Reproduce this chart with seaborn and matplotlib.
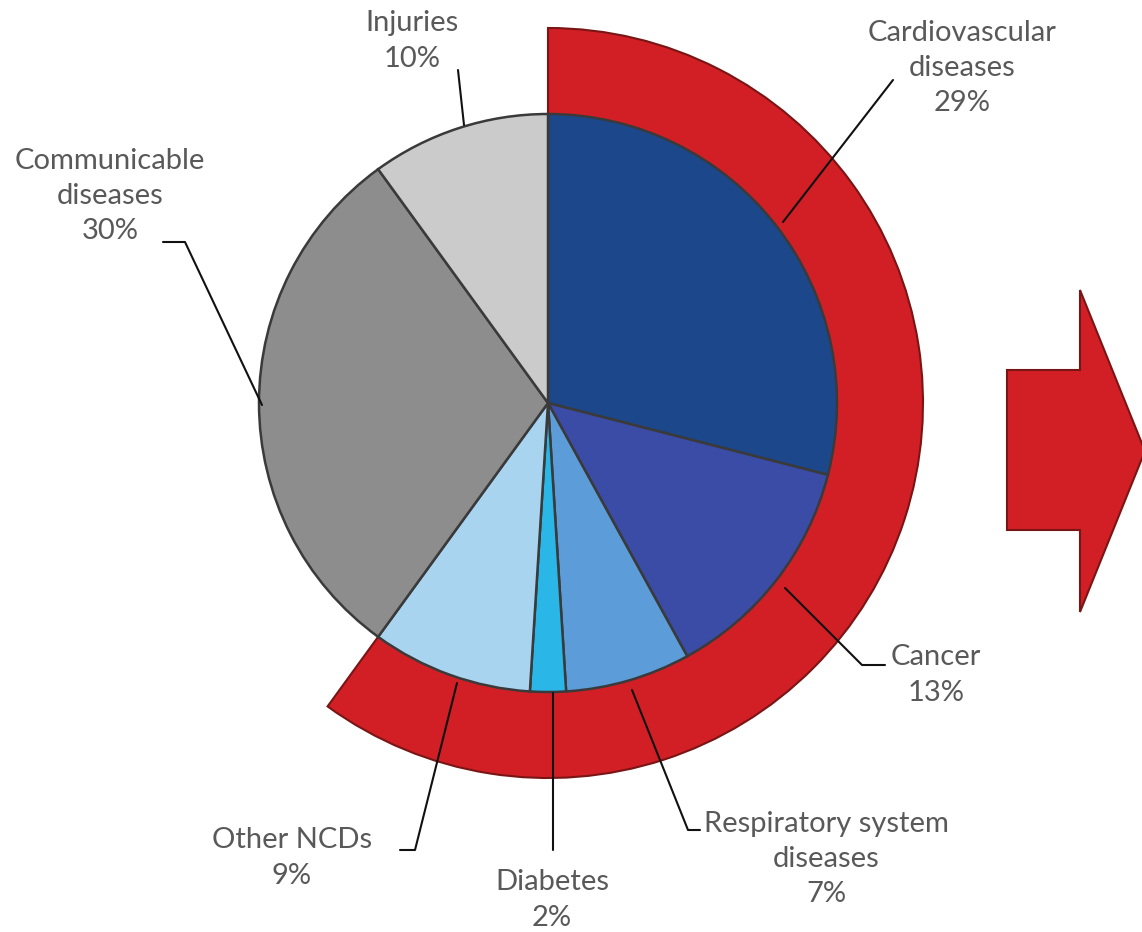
import numpy as np
import matplotlib
matplotlib.use("Agg")
import matplotlib.pyplot as plt
from matplotlib.patches import Wedge, Polygon
import seaborn as sns

# ---------------------------------------------
# Data
# ---------------------------------------------
categories = ["Cardiovascular\ndiseases", "Cancer", "Respiratory system\ndiseases",
              "Diabetes", "Other NCDs", "Communicable\ndiseases", "Injuries"]
shares = [29, 13, 7, 2, 9, 30, 10]
is_ncd = [True, True, True, True, True, False, False]

colors = ["#1c478a", "#3a4ca6", "#5c9cd8", "#2bb6e8", "#a9d4f0", "#8d8d8d", "#cbcbcb"]

sns.set_style("white")
plt.rcParams['font.family'] = ['Lato', 'DejaVu Sans']

W, H = 1142, 932
fig = plt.figure(figsize=(W / 100, H / 100), dpi=100)
ax = fig.add_axes([0, 0, 1, 1])


def py(y):
    # pixel row -> data y
    return H - y


cx, cy, r = 548, py(403), 289

# red ring behind the NCD slices
ncd_total = sum(s for s, n in zip(shares, is_ncd) if n)
ncd_deg = 360 * ncd_total / sum(shares)
ring = Wedge((cx, cy), 375, 90 - ncd_deg, 90, width=110,
             facecolor="#d21f26", edgecolor="#7a1515", linewidth=1.5, zorder=1)
ax.add_patch(ring)

wedges, _ = ax.pie(shares, colors=colors, startangle=90, counterclock=False,
                   center=(cx, cy), radius=r,
                   wedgeprops=dict(edgecolor="#3a3a3a", linewidth=1.8))
for w in wedges:
    w.set_zorder(2)

# arrow on the right
arrow = Polygon([(1007, py(370)), (1080, py(370)), (1080, py(290)), (1145, py(451)),
                 (1080, py(612)), (1080, py(530)), (1007, py(530))],
                closed=True, facecolor="#d21f26", edgecolor="#7a1515", linewidth=1.5, zorder=1)
ax.add_patch(arrow)

# labels and leader lines
label_pos = [(962, 68), (936, 675), (826, 859), (552, 900), (292, 858), (110, 196), (412, 41)]
leaders = [
    [(893, 80), (783, 222)],
    [(885, 665), (862, 665), (785, 588)],
    [(700, 830), (688, 830), (632, 690)],
    [(553, 850), (553, 693)],
    [(400, 850), (415, 850), (457, 683)],
    [(163, 242), (185, 242), (262, 405)],
    [(458, 70), (464, 125)],
]

for name, val, (tx, ty), pts in zip(categories, shares, label_pos, leaders):
    ax.text(tx, py(ty), f"{name}\n{val}%", ha="center", va="center",
            fontsize=21, color="#595959", linespacing=1.45, zorder=5)
    xs = [p[0] for p in pts]
    ys = [py(p[1]) for p in pts]
    ax.plot(xs, ys, color="#111111", linewidth=1.5, zorder=4)

ax.set_xlim(0, W)
ax.set_ylim(0, H)
ax.set_aspect("equal")
ax.axis("off")

fig.savefig("out.png", dpi=100, facecolor="white")
